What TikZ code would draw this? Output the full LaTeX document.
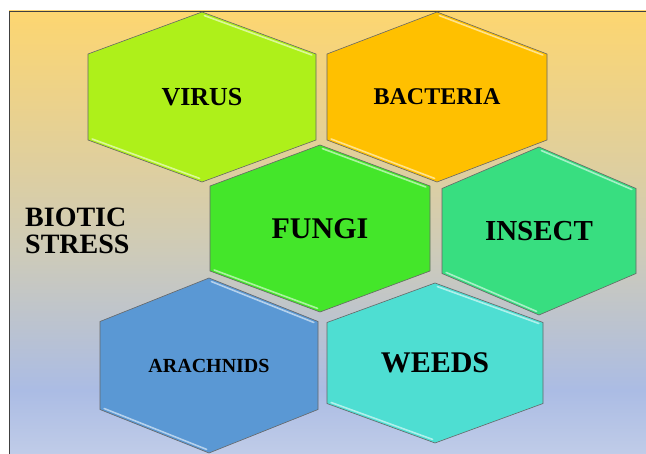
\documentclass[tikz,border=0pt]{standalone}
\usepackage{fontspec}
\setmainfont{Liberation Serif}
\definecolor{bgA}{RGB}{253,214,112}
\definecolor{bgB}{RGB}{206,203,184}
\definecolor{bgC}{RGB}{171,188,228}
\definecolor{bgD}{RGB}{192,204,232}
\definecolor{cvirus}{RGB}{174,240,26}
\definecolor{cbact}{RGB}{255,192,0}
\definecolor{cfungi}{RGB}{68,230,42}
\definecolor{cinsect}{RGB}{56,222,128}
\definecolor{carach}{RGB}{90,152,212}
\definecolor{cweeds}{RGB}{78,222,210}
\newcommand\myhex[9]{%
  \path[hexline, fill=#7] (#2,#3-#5) -- (#2+#4,#3-#6) -- (#2+#4,#3+#6) -- (#2,#3+#5) -- (#2-#4,#3+#6) -- (#2-#4,#3-#6) -- cycle;
  \draw[hexshine, draw=white!55!#7] (#2+2.4,#3-#5+3.6) -- (#2+#4-4.2,#3-#6+1.0);
  \draw[hexshine, draw=white!55!#7] (#2-#4+4.2,#3+#6-1.0) -- (#2-2.4,#3+#5-3.6);
  \node[hexlabel, font=\bfseries\fontsize{#9}{#9}\selectfont] (#1) at (#2,#3) {#8};
}
\begin{document}
\begin{tikzpicture}[x=1pt,y=-1pt,
  hexline/.style={draw=black!60, line width=0.6pt, line join=miter},
  hexshine/.style={line width=1.6pt, line cap=round},
  hexlabel/.style={text=black, inner sep=0pt},
  frameline/.style={draw=black!75, line width=0.9pt}]
\useasboundingbox (0,0) rectangle (646,454);
\fill[white] (0,0) rectangle (646,454);
\shade[top color=bgA, bottom color=bgB] (9,11) rectangle (646,250.5);
\shade[top color=bgB, bottom color=bgC] (9,250) rectangle (646,390.5);
\shade[top color=bgC, bottom color=bgD] (9,390) rectangle (646,454);
\draw[frameline] (9,454) -- (9,11) -- (646,11);
\myhex{virus}{202}{97}{114}{85}{43}{cvirus}{VIRUS}{26}
\myhex{bacteria}{437}{97}{110}{85}{43}{cbact}{BACTERIA}{24}
\myhex{fungi}{320}{228.5}{110}{83.5}{42.5}{cfungi}{FUNGI}{30}
\myhex{insect}{539}{231}{97}{84}{42.5}{cinsect}{INSECT}{29}
\myhex{arachnids}{209}{365.5}{109}{87.5}{44}{carach}{ARACHNIDS}{20}
\myhex{weeds}{435}{363}{108}{80}{40.5}{cweeds}{WEEDS}{30}
\node[hexlabel, align=left, anchor=west, font=\bfseries\fontsize{28}{27}\selectfont] (title) at (25,230.5) {BIOTIC\\STRESS};
\end{tikzpicture}
\end{document}
